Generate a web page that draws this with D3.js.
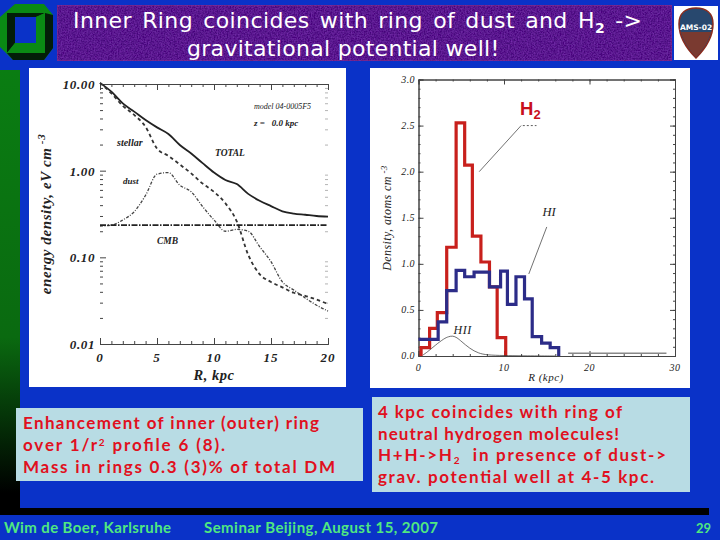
<!DOCTYPE html>
<html>
<head>
<meta charset="utf-8">
<script src="https://d3js.org/d3.v7.min.js"></script>
<style>
html, body { margin: 0; padding: 0; background: #0a32c8; overflow: hidden; }
text { white-space: pre; }
.slide { font-family: "DejaVu Sans", sans-serif; }
.plot { font-family: "Liberation Serif", serif; font-style: italic; fill: #222; }
.axis path { stroke: #444; }
.axis line { stroke: #444; }
</style>
</head>
<body>
<div id="chart"></div>
<script>
// left plot: energy density
var radius = [0, 1, 2, 3, 4, 5, 6, 7, 8, 9, 10, 11, 12, 13, 14, 15, 16, 17, 18, 19, 20];
var totalDensity = [10.3, 8.15, 5.98, 4.8, 3.84, 3.16, 2.65, 1.98, 1.58, 1.22, 0.95, 0.78, 0.7, 0.54, 0.45, 0.39, 0.34, 0.32, 0.31, 0.3, 0.295];
var stellarDensity = [10.3, 7.8, 5.6, 4.4, 3.2, 1.8, 1.48, 1.18, 0.93, 0.71, 0.57, 0.42, 0.26, 0.107, 0.064, 0.052, 0.045, 0.039, 0.036, 0.0325, 0.029];
var dustDensity = [0.23, 0.235, 0.27, 0.336, 0.52, 0.91, 0.95, 0.68, 0.57, 0.385, 0.27, 0.2, 0.21, 0.2, 0.133, 0.089, 0.052, 0.042, 0.034, 0.028, 0.024];
var cmbDensity = [0.235, 0.235];
var cmbRadius = [0, 20];
var energyTicks = [0.01, 0.1, 1, 10];
var energyLabels = ["0.01", "0.10", "1.00", "10.00"];

// right plot: gas density steps
var h2Edges = [0.3, 1.3, 2.2, 3.3, 4.4, 5.4, 6.3, 7.3, 8.3, 9.2, 10.2];
var h2Values = [0.09, 0.3, 0.47, 1.18, 2.53, 2.07, 1.3, 1.02, 0.75, 0.2];
var hiEdges = [0, 2.3, 3.3, 4.4, 5.4, 6.5, 8.3, 9.6, 10.4, 11.4, 12.4, 13.3, 14.4, 15.4, 16.4];
var hiValues = [0.18, 0.37, 0.71, 0.93, 0.86, 0.91, 0.75, 0.92, 0.56, 0.86, 0.62, 0.21, 0.14, 0.09];
var hiiiRadius = [0.5, 1, 2, 3, 3.5, 4, 4.5, 5, 6, 7, 8, 10, 12, 16];
var hiiiValues = [0.01, 0.04, 0.12, 0.19, 0.21, 0.22, 0.2, 0.16, 0.08, 0.03, 0.01, 0.005, 0.002, 0];
var tailRadius = [17.5, 29];
var tailValues = [0.03, 0.03];

var titleLines = ["Inner Ring coincides with ring of dust and H", "gravitational potential well!"];
var leftNotes = ["Enhancement of inner (outer) ring", "over 1/r", "Mass in rings 0.3 (3)% of total DM"];
var rightNotes = ["4 kpc coincides with ring of", "neutral hydrogen molecules!", "H+H->H", "grav. potential well at 4-5 kpc."];

var svgWidth = 720;
var svgHeight = 540;

var svg = d3.select("#chart")
    .append("svg")
    .attr("width", svgWidth)
    .attr("height", svgHeight)
    .style("display", "block");

var defs = svg.append("defs");
var barFade = defs.append("linearGradient")
    .attr("id", "barFade")
    .attr("x1", 0).attr("y1", 0).attr("x2", 0).attr("y2", 1);
barFade.append("stop").attr("offset", "0%").attr("stop-color", "#0a7d12");
barFade.append("stop").attr("offset", "60%").attr("stop-color", "#0a6a10");
barFade.append("stop").attr("offset", "95%").attr("stop-color", "#000");

var speckle = defs.append("filter").attr("id", "speckle")
    .attr("x", 0).attr("y", 0).attr("width", 1).attr("height", 1);
speckle.append("feTurbulence").attr("type", "fractalNoise").attr("baseFrequency", 0.7).attr("numOctaves", 2).attr("seed", 4);
speckle.append("feColorMatrix").attr("values", "0 0 0 0 0.2  0 0 0 0 0.03  0 0 0 0 0.45  0 0 0 1.4 -0.4");
speckle.append("feComposite").attr("in2", "SourceGraphic").attr("operator", "in").attr("result", "n");
speckle.append("feMerge").call(m => {
    m.append("feMergeNode").attr("in", "SourceGraphic");
    m.append("feMergeNode").attr("in", "n");
});

// slide furniture
var slide = svg.append("g").attr("class", "slide");
slide.append("rect").attr("x", 0).attr("y", 70).attr("width", 20).attr("height", 445).attr("fill", "url(#barFade)");
slide.append("rect").attr("x", 0).attr("y", 508).attr("width", 709).attr("height", 7).attr("fill", "#000");

// university logo
var logo = slide.append("g");
logo.append("polygon").attr("points", "15,4 44,4 53,15 53,48 44,60 13,60 0,47 0,17").attr("fill", "#0a8a14");
logo.append("polygon").attr("points", "45,13 53,15 53,48 44,60 13,60 7,53 45,53").attr("fill", "#031d08");
logo.append("polygon").attr("points", "7,13 45,13 36,17 15,17 15,43 7,53").attr("fill", "#031d08");
logo.append("polygon").attr("points", "7,53 15,43 36,43 36,17 45,13 45,53").attr("fill", "#0a8a14");
logo.append("rect").attr("x", 15).attr("y", 17).attr("width", 21).attr("height", 26).attr("fill", "#0a32c8");

// title box
slide.append("rect").attr("x", 57).attr("y", 5).attr("width", 615).attr("height", 56)
    .attr("fill", "#46107c").attr("stroke", "#80267c").attr("stroke-width", 1.5).attr("filter", "url(#speckle)");
var title = slide.append("text").attr("fill", "#fff").attr("font-size", 22).attr("x", 73).attr("y", 28)
    .attr("letter-spacing", 0.4).attr("word-spacing", 2.8);
title.append("tspan").text(titleLines[0]);
title.append("tspan").attr("font-size", 14).attr("dy", 5).attr("font-weight", "bold").text("2");
title.append("tspan").attr("dy", -5).text(" ->");
slide.append("text").attr("fill", "#fff").attr("font-size", 22).attr("x", 187).attr("y", 56)
    .attr("letter-spacing", 0.3).text(titleLines[1]);

// AMS badge
var badge = slide.append("g");
badge.append("rect").attr("x", 674).attr("y", 6).attr("width", 44).attr("height", 54).attr("fill", "#fff");
badge.append("path").attr("d", "M696,8 C706,8 713,13 713,24 C713,38 704,50 696,58 C688,50 679,38 679,24 C679,13 686,8 696,8 Z")
    .attr("fill", "#28486e").attr("stroke", "#8a2a1c").attr("stroke-width", 1.5);
badge.append("path").attr("d", "M681,32 L711,32 C709,40 703,50 696,57 C689,50 683,40 681,32 Z").attr("fill", "#7a3a30");
badge.append("text").attr("x", 696).attr("y", 30).attr("text-anchor", "middle").attr("font-size", 7.5).attr("font-weight", "bold").attr("fill", "#fff").text("AMS-02");

// plot panels
slide.append("rect").attr("x", 29).attr("y", 68).attr("width", 317).attr("height", 319).attr("fill", "#fff");
slide.append("rect").attr("x", 370).attr("y", 68).attr("width", 320).attr("height", 320).attr("fill", "#fff");

// ---------- left plot ----------
var xEnergy = d3.scaleLinear().domain([0, 20]).range([100, 328]);
var yEnergy = d3.scaleLog().domain([0.01, 10]).range([344, 84]);

var minorLog = [];
energyTicks.slice(0, 3).forEach(t => {
    [2, 3, 4, 5, 6, 7, 8, 9].forEach(m => minorLog.push(t * m));
});

var leftPlot = svg.append("g").attr("class", "plot");

function drawEnergyAxes() {
    var minorX = d3.range(0, 21, 1);
    leftPlot.append("g").attr("class", "axis").attr("transform", "translate(0,344)")
        .call(d3.axisTop(xEnergy).tickValues(minorX).tickSize(3).tickFormat(""));
    leftPlot.append("g").attr("class", "axis").attr("transform", "translate(0,344)")
        .call(d3.axisTop(xEnergy).tickValues([0, 5, 10, 15, 20]).tickSize(6).tickFormat(""));
    leftPlot.append("g").attr("class", "axis").attr("transform", "translate(0,84)")
        .call(d3.axisBottom(xEnergy).tickValues(minorX).tickSize(3).tickFormat(""));
    leftPlot.append("g").attr("class", "axis").attr("transform", "translate(0,84)")
        .call(d3.axisBottom(xEnergy).tickValues([0, 5, 10, 15, 20]).tickSize(6).tickFormat(""));
    leftPlot.append("g").attr("class", "axis noline").attr("transform", "translate(100,0)")
        .call(d3.axisRight(yEnergy).tickValues(minorLog).tickSize(3).tickFormat(""));
    leftPlot.append("g").attr("class", "axis noline").attr("transform", "translate(100,0)")
        .call(d3.axisRight(yEnergy).tickValues(energyTicks).tickSize(6).tickFormat(""));
    leftPlot.append("g").attr("class", "axis noline").attr("transform", "translate(328,0)")
        .call(d3.axisLeft(yEnergy).tickValues(minorLog).tickSize(3).tickFormat(""))
        .attr("opacity", 0.4);
    leftPlot.selectAll(".noline .domain").remove();

    leftPlot.selectAll(".xLab")
        .data([0, 5, 10, 15, 20])
        .enter().append("text")
        .attr("class", "xLab")
        .attr("x", d => xEnergy(d))
        .attr("y", 362)
        .attr("text-anchor", "middle")
        .attr("font-size", 13)
        .attr("font-weight", "bold")
        .attr("letter-spacing", 1)
        .text(d => d);
    leftPlot.selectAll(".yLab")
        .data(energyTicks)
        .enter().append("text")
        .attr("class", "yLab")
        .attr("x", 95)
        .attr("y", d => yEnergy(d) + 5)
        .attr("text-anchor", "end")
        .attr("font-size", 13)
        .attr("font-weight", "bold")
        .attr("letter-spacing", 0.6)
        .text((d, i) => energyLabels[i]);
}
drawEnergyAxes();

var energyLine = d3.line()
    .x(d => xEnergy(d[0]))
    .y(d => yEnergy(d[1]))
    .curve(d3.curveMonotoneX);

function addEnergy(xs, ys, width, dash, color) {
    leftPlot.append("path")
        .attr("d", energyLine(d3.zip(xs, ys)))
        .attr("fill", "none")
        .attr("stroke", color)
        .attr("stroke-width", width)
        .attr("stroke-dasharray", dash);
}
addEnergy(radius, totalDensity, 1.8, null, "#222");
addEnergy(radius, stellarDensity, 1.8, "3.5 3", "#333");
addEnergy(radius, dustDensity, 1.3, "3 1.5 1 1.5", "#444");
addEnergy(cmbRadius, cmbDensity, 1.8, "6 1.5 1.5 1.5", "#222");

function energyNote(x, y, txt, size, weight) {
    leftPlot.append("text").attr("x", x).attr("y", y).attr("font-size", size)
        .attr("font-weight", weight || "normal").text(txt);
}
energyNote(254, 109, "model 04-0005F5", 8);
energyNote(254, 126, "z =   0.0 kpc", 9, "bold");
energyNote(117, 146, "stellar", 10, "bold");
energyNote(215, 156, "TOTAL", 9.5, "bold");
energyNote(123, 184, "dust", 9, "bold");
energyNote(157, 244, "CMB", 9.5, "bold");
leftPlot.append("text").attr("x", 214).attr("y", 380).attr("text-anchor", "middle")
    .attr("font-size", 14.5).attr("font-weight", "bold").attr("letter-spacing", 0.5).text("R, kpc");
leftPlot.append("text").attr("transform", "translate(51,214) rotate(-90)")
    .attr("text-anchor", "middle").attr("font-size", 15).attr("font-weight", "bold")
    .attr("letter-spacing", 0.6)
    .text("energy density, eV cm")
    .append("tspan").attr("dy", -6).attr("font-size", 11).text(" -3");

// ---------- right plot ----------
var xGas = d3.scaleLinear().domain([0, 30]).range([418.5, 675]);
var yGas = d3.scaleLinear().domain([0, 3]).range([356, 79.5]);

var rightPlot = svg.append("g").attr("class", "plot");

function drawGasAxes() {
    var minorX = d3.range(0, 31, 2);
    var minorY = d3.range(0, 3.01, 0.1);
    var majorY = [0, 0.5, 1, 1.5, 2, 2.5, 3];
    [[356, d3.axisTop], [79.5, d3.axisBottom]].forEach(a => {
        rightPlot.append("g").attr("class", "axis gas").attr("transform", `translate(0,${a[0]})`)
            .call(a[1](xGas).tickValues(minorX).tickSize(2).tickFormat(""));
        rightPlot.append("g").attr("class", "axis gas").attr("transform", `translate(0,${a[0]})`)
            .call(a[1](xGas).tickValues([0, 10, 20, 30]).tickSize(5).tickFormat(""));
    });
    [[418.5, d3.axisRight], [675, d3.axisLeft]].forEach(a => {
        rightPlot.append("g").attr("class", "axis gas").attr("transform", `translate(${a[0]},0)`)
            .call(a[1](yGas).tickValues(minorY).tickSize(2).tickFormat(""));
        rightPlot.append("g").attr("class", "axis gas").attr("transform", `translate(${a[0]},0)`)
            .call(a[1](yGas).tickValues(majorY).tickSize(5).tickFormat(""));
    });
    rightPlot.selectAll(".gas path, .gas line").attr("stroke", "#999");

    rightPlot.selectAll(".xLab")
        .data([0, 10, 20, 30])
        .enter().append("text")
        .attr("class", "xLab")
        .attr("x", d => xGas(d))
        .attr("y", 371)
        .attr("text-anchor", "middle")
        .attr("font-size", 10)
        .attr("letter-spacing", 0.6)
        .text(d => d);
    rightPlot.selectAll(".yLab")
        .data(majorY)
        .enter().append("text")
        .attr("class", "yLab")
        .attr("x", 415)
        .attr("y", d => yGas(d) + 3)
        .attr("text-anchor", "end")
        .attr("font-size", 10)
        .attr("letter-spacing", 0.4)
        .text(d => d.toFixed(1));
}
drawGasAxes();

// step outline from edges and bin heights, closed down to zero on both ends
function stepPoints(edges, values) {
    var pts = [[edges[0], 0]];
    values.forEach((v, i) => {
        pts.push([edges[i], v]);
        pts.push([edges[i + 1], v]);
    });
    pts.push([edges[edges.length - 1], 0]);
    return pts;
}

var gasLine = d3.line().x(d => xGas(d[0])).y(d => yGas(d[1]));

rightPlot.append("path")
    .attr("d", gasLine(stepPoints(h2Edges, h2Values)))
    .attr("fill", "none").attr("stroke", "#c8201c").attr("stroke-width", 3.2);
rightPlot.append("path")
    .attr("d", gasLine(stepPoints(hiEdges, hiValues).slice(1)))
    .attr("fill", "none").attr("stroke", "#2c2c88").attr("stroke-width", 3.2);
rightPlot.append("path")
    .attr("d", d3.line().x(d => xGas(d[0])).y(d => yGas(d[1])).curve(d3.curveBasis)(d3.zip(hiiiRadius, hiiiValues)))
    .attr("fill", "none").attr("stroke", "#333").attr("stroke-width", 0.7);
rightPlot.append("path")
    .attr("d", gasLine(d3.zip(tailRadius, tailValues)))
    .attr("fill", "none").attr("stroke", "#888").attr("stroke-width", 1.4);

// pointer lines on the right plot, in data units
var h2Pointer = [[7.1, 2.0], [12, 2.5]];
var h2PointerEnd = [[12.2, 2.5], [13.8, 2.5]];
var hiPointer = [[12.9, 0.89], [15, 1.4]];
rightPlot.append("path").attr("d", gasLine(h2Pointer)).attr("fill", "none").attr("stroke", "#333").attr("stroke-width", 0.7);
rightPlot.append("path").attr("d", gasLine(h2PointerEnd)).attr("fill", "none").attr("stroke", "#333").attr("stroke-width", 0.8).attr("stroke-dasharray", "2 2");
rightPlot.append("path").attr("d", gasLine(hiPointer)).attr("fill", "none").attr("stroke", "#333").attr("stroke-width", 0.7);

rightPlot.append("text").attr("x", xGas(14.5)).attr("y", yGas(1.52)).attr("font-size", 12.5).text("HI");
rightPlot.append("text").attr("x", xGas(4.1)).attr("y", yGas(0.24)).attr("font-size", 12).attr("letter-spacing", 0.5).text("HII");
rightPlot.append("text").attr("x", 546).attr("y", 381).attr("text-anchor", "middle").attr("font-size", 11).attr("letter-spacing", 0.5).text("R (kpc)");
rightPlot.append("text").attr("transform", "translate(391,218) rotate(-90)")
    .attr("text-anchor", "middle").attr("font-size", 12).attr("letter-spacing", 0.4)
    .text("Density, atoms cm")
    .append("tspan").attr("dy", -4).attr("font-size", 9).text(" -3");

var h2Label = svg.append("text").attr("x", 520).attr("y", 115)
    .attr("font-family", "Liberation Sans, sans-serif").attr("font-weight", "bold")
    .attr("fill", "#c8101c").attr("font-size", 18.5).text("H");
h2Label.append("tspan").attr("dy", 4).attr("font-size", 13).text("2");

// ---------- note boxes ----------
slide.append("rect").attr("x", 16).attr("y", 408).attr("width", 347).attr("height", 73).attr("fill", "#b8dce4");
slide.append("rect").attr("x", 372).attr("y", 397).attr("width", 318).attr("height", 95).attr("fill", "#b8dce4");

var noteRed = "#e01020";
function noteLine(x, y, width) {
    return slide.append("text").attr("x", x).attr("y", y)
        .attr("fill", noteRed).attr("font-family", "Lato, sans-serif").attr("font-size", 17).attr("font-weight", "bold")
        .attr("textLength", width).attr("lengthAdjust", "spacing");
}
noteLine(23, 429, 296).text(leftNotes[0]);
var l2 = noteLine(23, 451, 202).text(leftNotes[1]);
l2.append("tspan").attr("dy", -5).attr("font-size", 10).text("2");
l2.append("tspan").attr("dy", 5).text(" profile 6 (8).");
noteLine(23, 473, 312).text(leftNotes[2]);

noteLine(378, 418, 244).text(rightNotes[0]);
noteLine(378, 440, 241).text(rightNotes[1]);
var r3 = noteLine(378, 461, 288).text(rightNotes[2]);
r3.append("tspan").attr("dy", 3).attr("font-size", 10).text("2");
r3.append("tspan").attr("dy", -3).text("  in presence of dust->");
noteLine(378, 483, 276).text(rightNotes[3]);

// ---------- footer ----------
var footerGreen = "#50e880";
function footer(x, txt, width) {
    slide.append("text").attr("x", x).attr("y", 533).attr("fill", footerGreen)
        .attr("font-family", "Lato, sans-serif").attr("font-weight", "bold")
        .attr("font-size", 15).attr("textLength", width).attr("lengthAdjust", "spacing").text(txt);
}
footer(4, "Wim de Boer, Karlsruhe", 167);
footer(204, "Seminar Beijing, August 15, 2007", 234);
slide.append("text").attr("x", 711).attr("y", 533).attr("text-anchor", "end").attr("fill", footerGreen)
    .attr("font-family", "Lato, sans-serif").attr("font-weight", "bold").attr("font-size", 13).text("29");
</script>
</body>
</html>
